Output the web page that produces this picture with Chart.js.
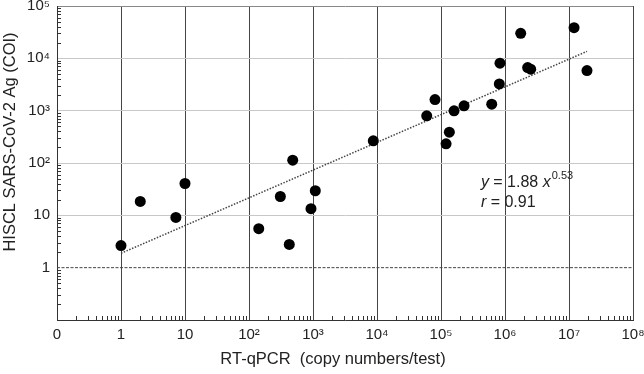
<!DOCTYPE html>
<html>
<head>
<meta charset="utf-8">
<script src="https://cdn.jsdelivr.net/npm/chart.js@4.4.1/dist/chart.umd.min.js"></script>
<style>
  html, body { margin: 0; padding: 0; background: #fff; }
</style>
</head>
<body>
<canvas id="myChart" width="644" height="374"></canvas>
<script>
// RT-qPCR copy numbers vs HISCL antigen (COI), one point per sample
const copies = [1, 2.0, 7.2, 10, 142, 309, 482, 426, 1086, 930, 8750, 59800, 80600, 160000, 135000, 120000, 229000, 620000, 815000, 835000, 2260000, 2520000, 1760000, 12000000, 19100000];
const coi = [2.65, 18.4, 9.1, 40.6, 5.55, 22.9, 113, 2.78, 29.5, 13.4, 265, 796, 1630, 991, 389, 232, 1235, 1330, 3250, 8060, 6650, 6200, 30100, 38500, 5830];

// regression line y = 1.88 x^0.53 (end points)
const fitX = [1, 19100000];
const fitY = [1.88, 13600];

// cut-off line at COI = 1
const cutX = [0.1, 1e8];
const cutY = [1, 1];

const xTickValues = [0.1, 1, 10, 1e2, 1e3, 1e4, 1e5, 1e6, 1e7, 1e8];
const xTickLabels = ['0', '1', '10', '10²', '10³', '10⁴', '10⁵', '10⁶', '10⁷', '10⁸'];
const yTickValues = [0.1, 1, 10, 1e2, 1e3, 1e4, 1e5];
const yTickLabels = ['', '1', '10', '10²', '10³', '10⁴', '10⁵'];

const FONT = '"Liberation Sans", Arial, sans-serif';

const toXY = (xs, ys) => xs.map((v, i) => ({x: v, y: ys[i]}));

// minor ticks, axis titles and the equation text
const extras = {
  id: 'extras',
  afterDraw(chart) {
    const c = chart.ctx;
    const sx = chart.scales.x, sy = chart.scales.y, a = chart.chartArea;
    c.save();
    c.strokeStyle = '#333';
    c.lineWidth = 1;
    c.beginPath();
    for (let e = -1; e < 8; e++) {
      for (let m = 2; m < 10; m++) {
        const px = Math.round(sx.getPixelForValue(m * Math.pow(10, e))) + 0.5;
        c.moveTo(px, a.bottom);
        c.lineTo(px, a.bottom - 4);
      }
    }
    for (let e = -1; e < 5; e++) {
      for (let m = 2; m < 10; m++) {
        const py = Math.round(sy.getPixelForValue(m * Math.pow(10, e))) + 0.5;
        c.moveTo(a.left, py);
        c.lineTo(a.left + 4, py);
      }
    }
    c.stroke();

    c.fillStyle = '#222';
    c.font = '16.5px ' + FONT;
    c.textAlign = 'center';
    c.textBaseline = 'alphabetic';
    c.fillText('RT-qPCR  (copy numbers/test)', 333, 364);
    c.save();
    c.translate(15, 142);
    c.rotate(-Math.PI / 2);
    c.fillText('HISCL SARS-CoV-2 Ag (COI)', 0, 0);
    c.restore();

    // equation
    c.textAlign = 'left';
    let tx = sx.getPixelForValue(4.2e5);
    let ty = sy.getPixelForValue(35);
    const parts = [['y', 'italic 16px '], [' = 1.88 ', '16px '], ['x', 'italic 16px ']];
    parts.forEach(p => {
      c.font = p[1] + FONT;
      c.fillText(p[0], tx, ty);
      tx += c.measureText(p[0]).width;
    });
    c.font = '11px ' + FONT;
    c.fillText('0.53', tx + 1, ty - 8);
    tx = sx.getPixelForValue(4.2e5);
    ty += 20;
    c.font = 'italic 16px ' + FONT;
    c.fillText('r', tx, ty);
    const rw = c.measureText('r').width;
    c.font = '16px ' + FONT;
    c.fillText(' = 0.91', tx + rw, ty);
    c.restore();
  }
};

const ctx = document.getElementById('myChart');
const myChart = new Chart(ctx, {
  type: 'scatter',
  data: {
    datasets: [{
      label: 'samples',
      data: toXY(copies, coi),
      backgroundColor: '#000',
      borderWidth: 0,
      pointRadius: 5.5,
      order: 0
    }, {
      type: 'line',
      label: 'fit',
      data: toXY(fitX, fitY),
      borderColor: '#444',
      borderWidth: 1.5,
      borderDash: [1.5, 1.5],
      pointRadius: 0,
      fill: false,
      order: 1
    }, {
      type: 'line',
      label: 'cutoff',
      data: toXY(cutX, cutY),
      borderColor: '#444',
      borderWidth: 1,
      borderDash: [3, 1.5],
      pointRadius: 0,
      fill: false,
      order: 2
    }]
  },
  options: {
    responsive: false,
    animation: false,
    devicePixelRatio: 1,
    layout: { padding: { top: 6, right: 11, left: 0, bottom: 0 } },
    plugins: {
      legend: { display: false },
      tooltip: { enabled: false }
    },
    scales: {
      x: {
        type: 'logarithmic',
        min: 0.1,
        max: 1e8,
        afterBuildTicks: s => { s.ticks = xTickValues.map(v => ({value: v})); },
        afterFit: s => { s.height = 54; s.paddingLeft = 0; s.paddingRight = 0; },
        ticks: {
          autoSkip: false,
          maxRotation: 0,
          padding: 6,
          color: '#222',
          font: { family: FONT, size: 15 },
          callback: v => xTickLabels[xTickValues.indexOf(v)]
        },
        grid: { color: '#444', lineWidth: 1, drawTicks: false },
        border: { display: true, color: '#333' }
      },
      y: {
        type: 'logarithmic',
        min: 0.1,
        max: 1e5,
        afterBuildTicks: s => { s.ticks = yTickValues.map(v => ({value: v})); },
        afterFit: s => { s.width = 57; s.paddingTop = 0; s.paddingBottom = 0; },
        ticks: {
          autoSkip: false,
          padding: 7,
          color: '#222',
          font: { family: FONT, size: 15 },
          callback: v => yTickLabels[yTickValues.indexOf(v)]
        },
        grid: {
          color: c => c.tick && c.tick.value === 1 ? 'rgba(0,0,0,0)' : (c.tick && c.tick.value === 1e5 ? '#888' : '#c8c8c8'),
          lineWidth: 1,
          drawTicks: false
        },
        border: { display: true, color: '#333' }
      }
    }
  },
  plugins: [extras]
});
</script>
</body>
</html>
